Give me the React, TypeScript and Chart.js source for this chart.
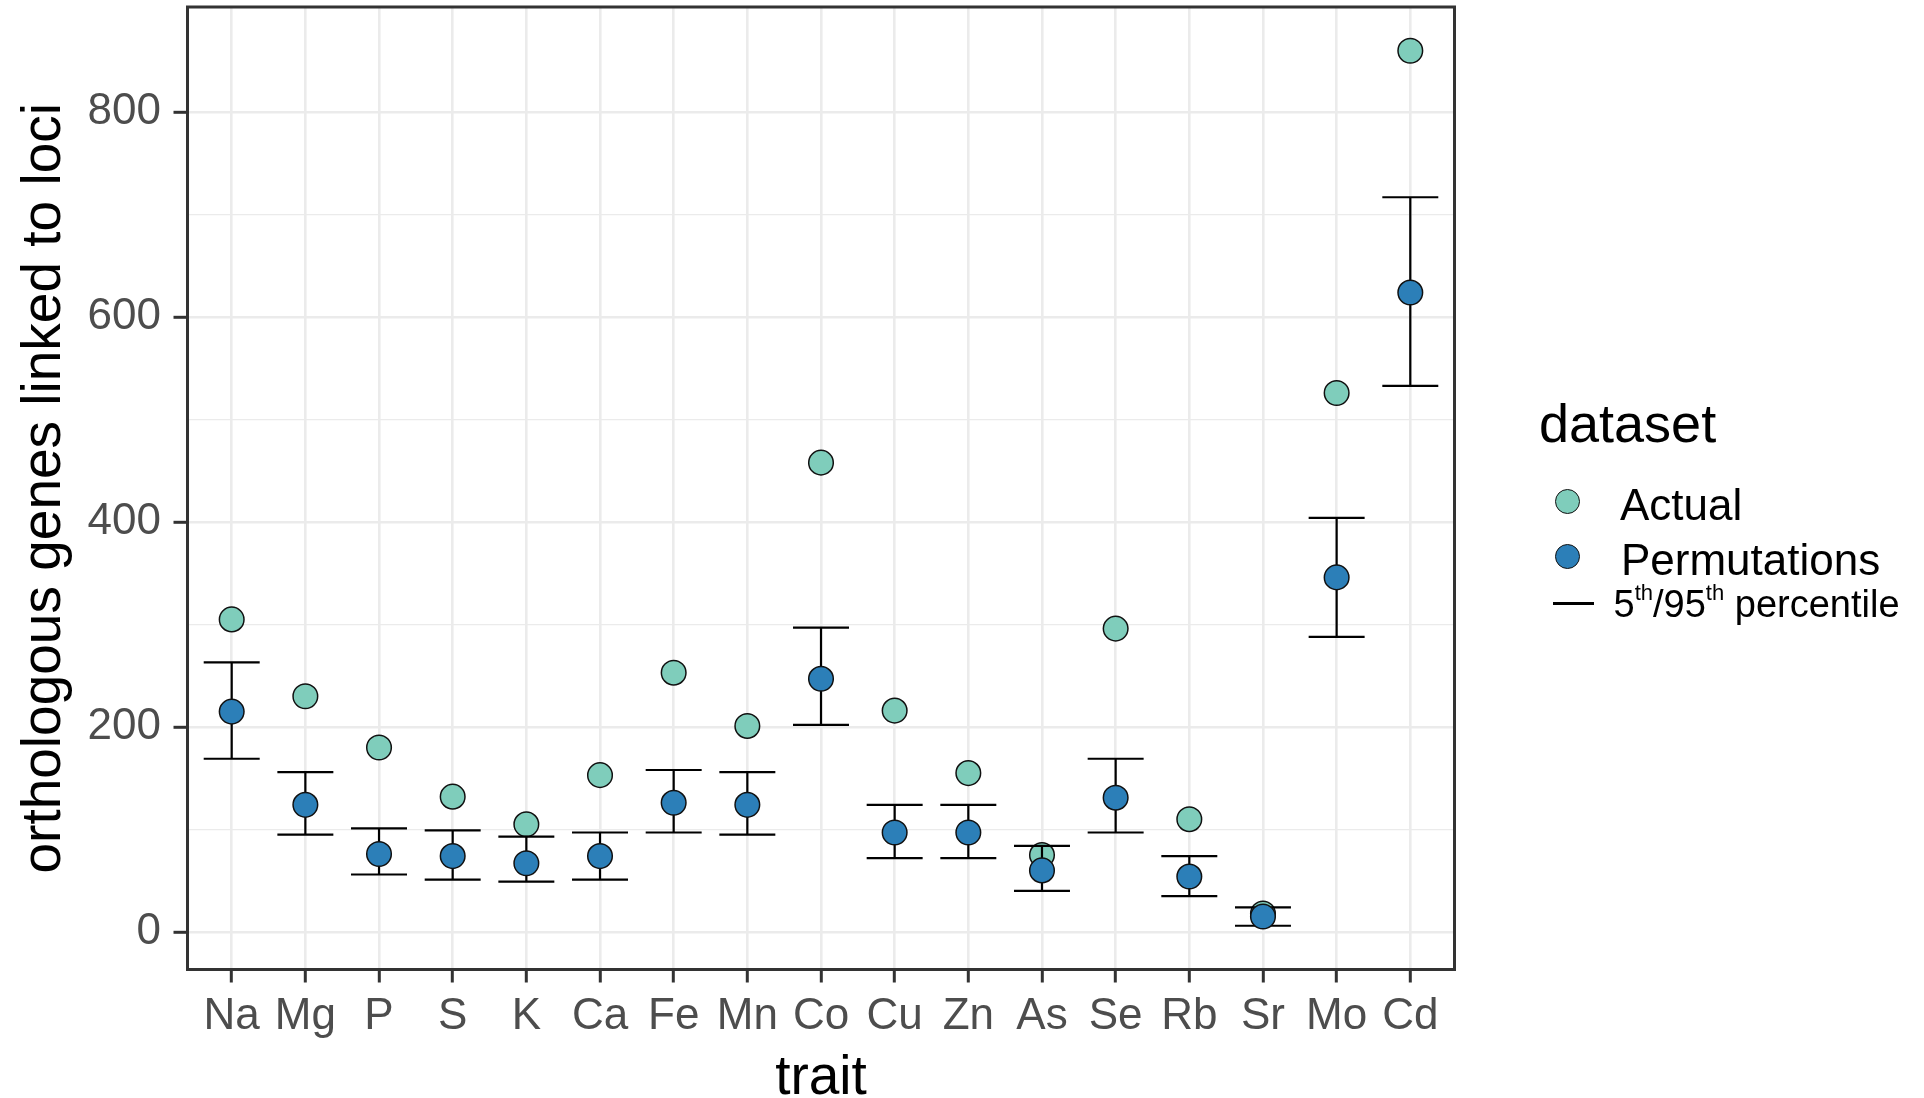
import React, { useEffect, useRef } from 'react';
import { Chart, registerables } from 'chart.js';

Chart.register(...registerables);

// ---- data ----
const traits = ['Na', 'Mg', 'P', 'S', 'K', 'Ca', 'Fe', 'Mn', 'Co', 'Cu', 'Zn', 'As', 'Se', 'Rb', 'Sr', 'Mo', 'Cd'];
const actualValues = [305, 230, 180, 132, 105, 153, 253, 201, 458, 216, 155, 75, 296, 110, 18, 526, 860];
const permutationValues = [215, 124, 76, 74, 67, 74, 126, 124, 247, 97, 97, 60, 131, 54, 15, 346, 624];
const percentile95 = [263, 156, 101, 99, 93, 97, 158, 156, 297, 124, 124, 84, 169, 74, 24, 404, 717];
const percentile5 = [169, 95, 56, 51, 49, 51, 97, 95, 202, 72, 72, 40, 97, 35, 6, 288, 533];
const yTickValues = [0, 100, 200, 300, 400, 500, 600, 700, 800];
const yLabelStep = 200;

const FONT = "'Liberation Sans', Arial, Helvetica, sans-serif";
const W = 1924;
const H = 1098;

const panelPlugin = {
  id: 'panelAndErrorBars',
  afterDatasetDraw(chart: any, args: any) {
    if (args.index !== 0) return;
    const { ctx } = chart;
    const x = chart.scales.x;
    const y = chart.scales.y;
    const capHalf = 0.38;
    ctx.save();
    ctx.strokeStyle = '#000000';
    ctx.lineWidth = 2.2;
    ctx.lineCap = 'butt';
    ctx.beginPath();
    traits.forEach((_, i) => {
      const cx = x.getPixelForValue(i);
      const xl = x.getPixelForValue(i - capHalf);
      const xr = x.getPixelForValue(i + capHalf);
      const yt = y.getPixelForValue(percentile95[i]);
      const yb = y.getPixelForValue(percentile5[i]);
      ctx.moveTo(cx, yt);
      ctx.lineTo(cx, yb);
      ctx.moveTo(xl, yt);
      ctx.lineTo(xr, yt);
      ctx.moveTo(xl, yb);
      ctx.lineTo(xr, yb);
    });
    ctx.stroke();
    ctx.restore();
  },
  afterDraw(chart: any) {
    const { ctx, chartArea } = chart;
    ctx.save();
    ctx.strokeStyle = '#333333';
    ctx.lineWidth = 3;
    ctx.strokeRect(chartArea.left, chartArea.top, chartArea.right - chartArea.left, chartArea.bottom - chartArea.top);
    ctx.restore();
  },
};

export default function App() {
  const canvasRef = useRef<HTMLCanvasElement | null>(null);

  useEffect(() => {
    const canvas = canvasRef.current;
    if (!canvas) return;
    Chart.defaults.font.family = FONT;

    const allVals = [...actualValues, ...permutationValues, ...percentile95, ...percentile5];
    const dMin = Math.min(...allVals);
    const dMax = Math.max(...allVals);
    const pad = (dMax - dMin) * 0.05;

    const chart = new Chart(canvas, {
      type: 'scatter',
      data: {
        datasets: [
          {
            label: 'Actual',
            data: actualValues.map((v, i) => ({ x: i, y: v })),
            backgroundColor: '#7FCDBB',
            borderColor: '#111111',
            borderWidth: 1.5,
            pointRadius: 12.3,
            pointHoverRadius: 12.3,
            order: 1,
          },
          {
            label: 'Permutations',
            data: permutationValues.map((v, i) => ({ x: i, y: v })),
            backgroundColor: '#2C7FB8',
            borderColor: '#111111',
            borderWidth: 1.5,
            pointRadius: 12.3,
            pointHoverRadius: 12.3,
            order: 0,
          },
        ],
      },
      options: {
        animation: false,
        responsive: false,
        devicePixelRatio: 1,
        events: [],
        layout: { autoPadding: false, padding: { left: 0, top: 7, right: 469.5, bottom: 0 } },
        plugins: {
          legend: { display: false },
          tooltip: { enabled: false },
        },
        scales: {
          x: {
            type: 'linear',
            min: -0.6,
            max: traits.length - 1 + 0.6,
            afterBuildTicks: (scale: any) => {
              scale.ticks = traits.map((_, i) => ({ value: i }));
            },
            afterFit: (scale: any) => {
              scale.height = H - 969.5;
              scale.paddingLeft = 0;
              scale.paddingRight = 0;
            },
            border: { display: false },
            grid: {
              color: '#EBEBEB',
              lineWidth: 2.6,
              drawTicks: true,
              tickLength: 13,
              tickWidth: 3,
              tickColor: '#333333',
            },
            ticks: {
              autoSkip: false,
              maxRotation: 0,
              minRotation: 0,
              padding: 8,
              color: '#4D4D4D',
              font: { size: 44, family: FONT },
              callback: (v: any) => traits[Math.round(Number(v))] ?? '',
            },
            title: {
              display: true,
              text: 'trait',
              color: '#000000',
              font: { size: 55, family: FONT, lineHeight: 0.7 },
              padding: { top: 0, bottom: 0 },
            },
          },
          y: {
            type: 'linear',
            min: dMin - pad,
            max: dMax + pad,
            afterBuildTicks: (scale: any) => {
              scale.ticks = yTickValues.map((v) => ({ value: v }));
            },
            afterFit: (scale: any) => {
              scale.width = 187.5;
              scale.paddingTop = 0;
              scale.paddingBottom = 0;
            },
            border: { display: false },
            grid: {
              color: '#EBEBEB',
              lineWidth: (c: any) => (c.tick && c.tick.value % yLabelStep === 0 ? 2.6 : 1.3),
              drawTicks: true,
              tickLength: 14,
              tickWidth: 3,
              tickColor: (c: any) => (c.tick && c.tick.value % yLabelStep === 0 ? '#333333' : 'rgba(0,0,0,0)'),
            },
            ticks: {
              autoSkip: false,
              padding: 12.5,
              color: '#4D4D4D',
              font: { size: 44, family: FONT },
              callback: (v: any) => (Number(v) % yLabelStep === 0 ? String(v) : ''),
            },
            title: {
              display: true,
              text: 'orthologous genes linked to loci',
              color: '#000000',
              font: { size: 55, family: FONT },
              padding: { top: 12, bottom: 0 },
            },
          },
        },
      },
      plugins: [panelPlugin],
    } as any);

    return () => chart.destroy();
  }, []);

  const base: React.CSSProperties = {
    position: 'absolute',
    fontFamily: FONT,
    color: '#000',
    whiteSpace: 'nowrap',
  };

  return (
    <div style={{ position: 'fixed', left: 0, top: 0, width: W, height: H, background: '#ffffff', overflow: 'hidden' }}>
      <canvas
        ref={canvasRef}
        width={W}
        height={H}
        style={{ position: 'absolute', left: 0, top: 0, width: W, height: H }}
      />
      <div style={{ ...base, left: 1539, top: 442 - 0.8465 * 54, fontSize: 54, lineHeight: '54px' }}>dataset</div>
      <div
        style={{
          position: 'absolute',
          left: 1567 - 12.5,
          top: 501.5 - 12.5,
          width: 25,
          height: 25,
          boxSizing: 'border-box',
          borderRadius: '50%',
          background: '#7FCDBB',
          border: '1.5px solid #111',
        }}
      />
      <div style={{ ...base, left: 1620, top: 520.5 - 0.8465 * 44, fontSize: 44, lineHeight: '44px' }}>Actual</div>
      <div
        style={{
          position: 'absolute',
          left: 1567 - 12.5,
          top: 556 - 12.5,
          width: 25,
          height: 25,
          boxSizing: 'border-box',
          borderRadius: '50%',
          background: '#2C7FB8',
          border: '1.5px solid #111',
        }}
      />
      <div style={{ ...base, left: 1621, top: 575 - 0.8465 * 44, fontSize: 44, lineHeight: '44px' }}>Permutations</div>
      <div style={{ position: 'absolute', left: 1553, top: 601.5, width: 41, height: 3, background: '#000' }} />
      <div style={{ ...base, left: 1613.5, top: 617 - 0.8465 * 38, fontSize: 38, lineHeight: '38px' }}>
        5<span style={{ fontSize: 22, lineHeight: 0, verticalAlign: 17 }}>th</span>/95
        <span style={{ fontSize: 22, lineHeight: 0, verticalAlign: 17 }}>th</span> percentile
      </div>
    </div>
  );
}
